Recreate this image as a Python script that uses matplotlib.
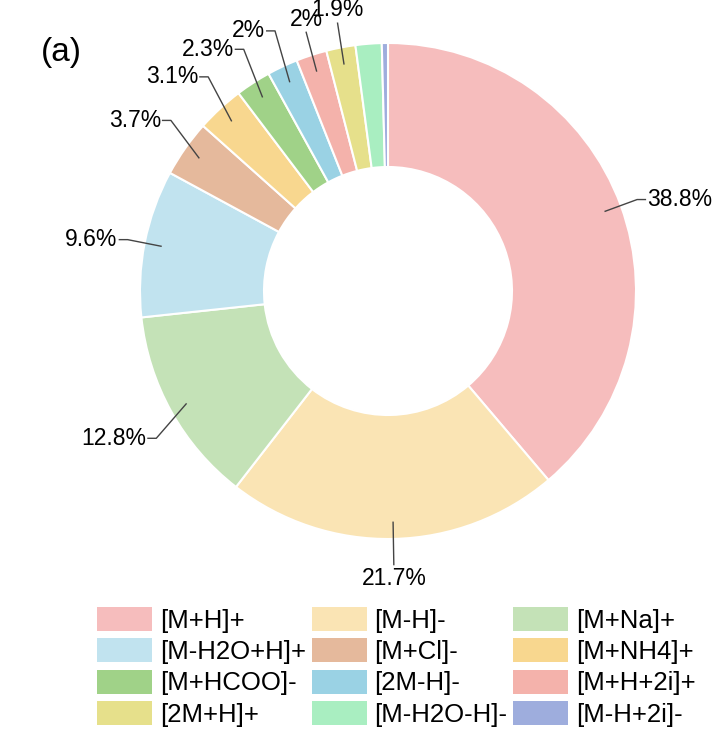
import matplotlib
matplotlib.use("Agg")
import matplotlib.pyplot as plt
import numpy as np
from matplotlib.patches import Patch

# Adduct types and their share of annotations (%)
adducts = [
    "[M+H]+", "[M-H]-", "[M+Na]+",
    "[M-H2O+H]+", "[M+Cl]-", "[M+NH4]+",
    "[M+HCOO]-", "[2M-H]-", "[M+H+2i]+",
    "[2M+H]+", "[M-H2O-H]-", "[M-H+2i]-",
]
shares = [38.8, 21.7, 12.8, 9.6, 3.7, 3.1, 2.3, 2.0, 2.0, 1.9, 1.7, 0.4]
colors = [
    "#F6BDBD", "#FAE4B4", "#C4E2B7",
    "#C1E3EF", "#E5B99C", "#F8D78F",
    "#A0D288", "#9AD2E4", "#F4B2AB",
    "#E6E08B", "#A9EEC1", "#9EADDD",
]
# vertical nudges (px) applied to label elbows, as the original spreads them apart
label_dy = [0, -9, -18, 0, 18, 19, 19, 20, 7, 8, 0, 0]

plt.rcParams["font.family"] = ["Liberation Sans", "DejaVu Sans"]

W, H = 718, 743
fig = plt.figure(figsize=(W / 100, H / 100), dpi=100)
ax = fig.add_axes([0, 0, 1, 1])

cx, cy = 388, H - 291
R, r_in = 248, 124

wedges, _ = ax.pie(
    shares,
    colors=colors,
    startangle=90,
    counterclock=False,
    radius=R,
    center=(cx, cy),
    wedgeprops=dict(width=R - r_in, edgecolor="white", linewidth=1.5),
)
ax.set_xlim(0, W)
ax.set_ylim(0, H)
ax.set_aspect("equal")
ax.axis("off")

# Percentage labels with leader lines
line_kw = dict(color="#444444", linewidth=1.0, solid_capstyle="butt")
for w, val, dy in zip(wedges, shares, label_dy):
    if val < 1.8:
        continue
    ang = np.deg2rad((w.theta1 + w.theta2) / 2)
    c, s = np.cos(ang), np.sin(ang)
    x0, y0 = cx + 0.93 * R * c, cy + 0.93 * R * s
    x1, y1 = cx + 1.07 * R * c, cy + 1.07 * R * s + dy
    txt = f"{val:g}%"
    if abs(c) < 0.35:
        ax.plot([x0, x1], [y0, y1], **line_kw)
        if s > 0:
            ax.text(x1, y1 + 1, txt, ha="center", va="bottom", fontsize=16.5)
        else:
            ax.text(x1, y1 - 2, txt, ha="center", va="top", fontsize=16.5)
    else:
        side = 1 if c > 0 else -1
        x2 = x1 + side * 9
        ax.plot([x0, x1, x2], [y0, y1, y1], **line_kw)
        ax.text(x2 + side * 1, y1, txt, ha="left" if side > 0 else "right",
                va="center", fontsize=16.5)

fig.text(41 / W, 1 - 52 / H, "(a)", fontsize=24, va="center", ha="left")

# Legend, filled row by row like the original
handles = [Patch(facecolor=col, edgecolor="none") for col in colors]
order = [i for col in range(3) for i in range(col, len(adducts), 3)]
fig.legend(
    [handles[i] for i in order],
    [adducts[i] for i in order],
    ncol=3,
    loc="upper left",
    bbox_to_anchor=(97 / W, 1 - 607 / H),
    frameon=False,
    fontsize=18.5,
    handlelength=2.15,
    handleheight=1.05,
    handletextpad=0.3,
    columnspacing=0.22,
    labelspacing=0.22,
    borderpad=0,
    borderaxespad=0,
)

fig.savefig("out.png", dpi=100, facecolor="white")
plt.close(fig)
